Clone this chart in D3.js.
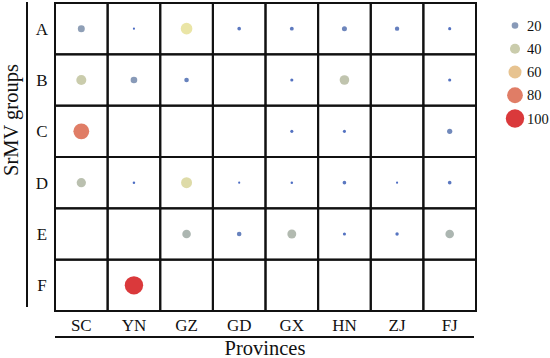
<!DOCTYPE html>
<html>
<head>
<meta charset="utf-8">
<script src="https://cdn.jsdelivr.net/npm/d3@7"></script>
<style>
  body { margin: 0; background: #fff; }
  text { font-family: "Liberation Serif", "Times New Roman", serif; fill: #111; }
</style>
</head>
<body>
<div id="chart"></div>
<script>
// provinces along x, SrMV groups along y
var provinces = ["SC", "YN", "GZ", "GD", "GX", "HN", "ZJ", "FJ"];
var groups = ["A", "B", "C", "D", "E", "F"];

// percentage per group and province (null = empty cell)
var groupA = [22, 1, 50, 6, 7, 12, 9, 4];
var groupB = [40, 20, 10, null, 4, 37, null, 4];
var groupC = [80, null, null, null, 4, 4, null, 13];
var groupD = [35, 2, 46, 1, 2, 6, 1, 6];
var groupE = [null, null, 31, 10, 33, 4, 5, 31];
var groupF = [null, 100, null, null, null, null, null, null];

var legendValues = [20, 40, 60, 80, 100];

var width = 550,
    height = 358;

var svg = d3.select("#chart")
    .append("svg")
    .attr("width", width)
    .attr("height", height);

var x = d3.scaleBand()
    .domain(provinces)
    .range([55, 476]);

var y = d3.scaleBand()
    .domain(groups)
    .range([3, 311]);

var size = d3.scalePow()
    .exponent(0.75)
    .domain([0, 100])
    .range([0.8, 9.2]);

var color = d3.scaleLinear()
    .domain([0, 50, 100])
    .range(["#3358bd", "#e8e29c", "#d62326"])
    .interpolate(d3.interpolateRgb);

// build cells from the row arrays
var rows = [groupA, groupB, groupC, groupD, groupE, groupF];
var cells = [];
rows.forEach(function (row, i) {
    row.forEach(function (v, j) {
        cells.push({ group: groups[i], province: provinces[j], value: v });
    });
});

// grid
var grid = svg.append("g");
grid.selectAll("rect")
    .data(cells)
    .enter()
    .append("rect")
    .attr("x", function (d) { return x(d.province); })
    .attr("y", function (d) { return y(d.group); })
    .attr("width", x.bandwidth())
    .attr("height", y.bandwidth())
    .attr("fill", "none")
    .attr("stroke", "#111")
    .attr("stroke-width", 2);

// dots
svg.append("g")
    .selectAll("circle")
    .data(cells.filter(function (d) { return d.value != null; }))
    .enter()
    .append("circle")
    .attr("cx", function (d) { return x(d.province) + x.bandwidth() / 2; })
    .attr("cy", function (d) { return y(d.group) + y.bandwidth() / 2; })
    .attr("r", function (d) { return size(d.value); })
    .attr("fill", function (d) { return color(d.value); })
    .attr("fill-opacity", 0.9);

// row labels + left line
svg.append("g")
    .selectAll("text")
    .data(groups)
    .enter()
    .append("text")
    .attr("x", 42)
    .attr("y", function (d) { return y(d) + y.bandwidth() / 2; })
    .attr("dy", "0.35em")
    .attr("text-anchor", "middle")
    .attr("font-size", 17)
    .text(function (d) { return d; });

svg.append("line")
    .attr("x1", 27).attr("x2", 27)
    .attr("y1", 2).attr("y2", 307)
    .attr("stroke", "#111")
    .attr("stroke-width", 2);

svg.append("text")
    .attr("transform", "translate(18,120) rotate(-90)")
    .attr("text-anchor", "middle")
    .attr("font-size", 20.5)
    .text("SrMV groups");

// column labels + bottom line
svg.append("g")
    .selectAll("text")
    .data(provinces)
    .enter()
    .append("text")
    .attr("x", function (d) { return x(d) + x.bandwidth() / 2; })
    .attr("y", 331)
    .attr("text-anchor", "middle")
    .attr("font-size", 17)
    .text(function (d) { return d; });

svg.append("line")
    .attr("x1", 55).attr("x2", 474)
    .attr("y1", 337).attr("y2", 337)
    .attr("stroke", "#111")
    .attr("stroke-width", 2);

svg.append("text")
    .attr("x", 265)
    .attr("y", 355)
    .attr("text-anchor", "middle")
    .attr("font-size", 20.5)
    .text("Provinces");

// legend
var legendY = d3.scalePoint()
    .domain(legendValues)
    .range([25.5, 118.5]);

var legend = svg.append("g");
legend.selectAll("circle")
    .data(legendValues)
    .enter()
    .append("circle")
    .attr("cx", 515)
    .attr("cy", function (d) { return legendY(d); })
    .attr("r", function (d) { return size(d); })
    .attr("fill", function (d) { return color(d); })
    .attr("fill-opacity", 0.9);

legend.selectAll("text")
    .data(legendValues)
    .enter()
    .append("text")
    .attr("x", 527)
    .attr("y", function (d) { return legendY(d); })
    .attr("dy", "0.35em")
    .attr("font-size", 14.5)
    .text(function (d) { return d; });
</script>
</body>
</html>
